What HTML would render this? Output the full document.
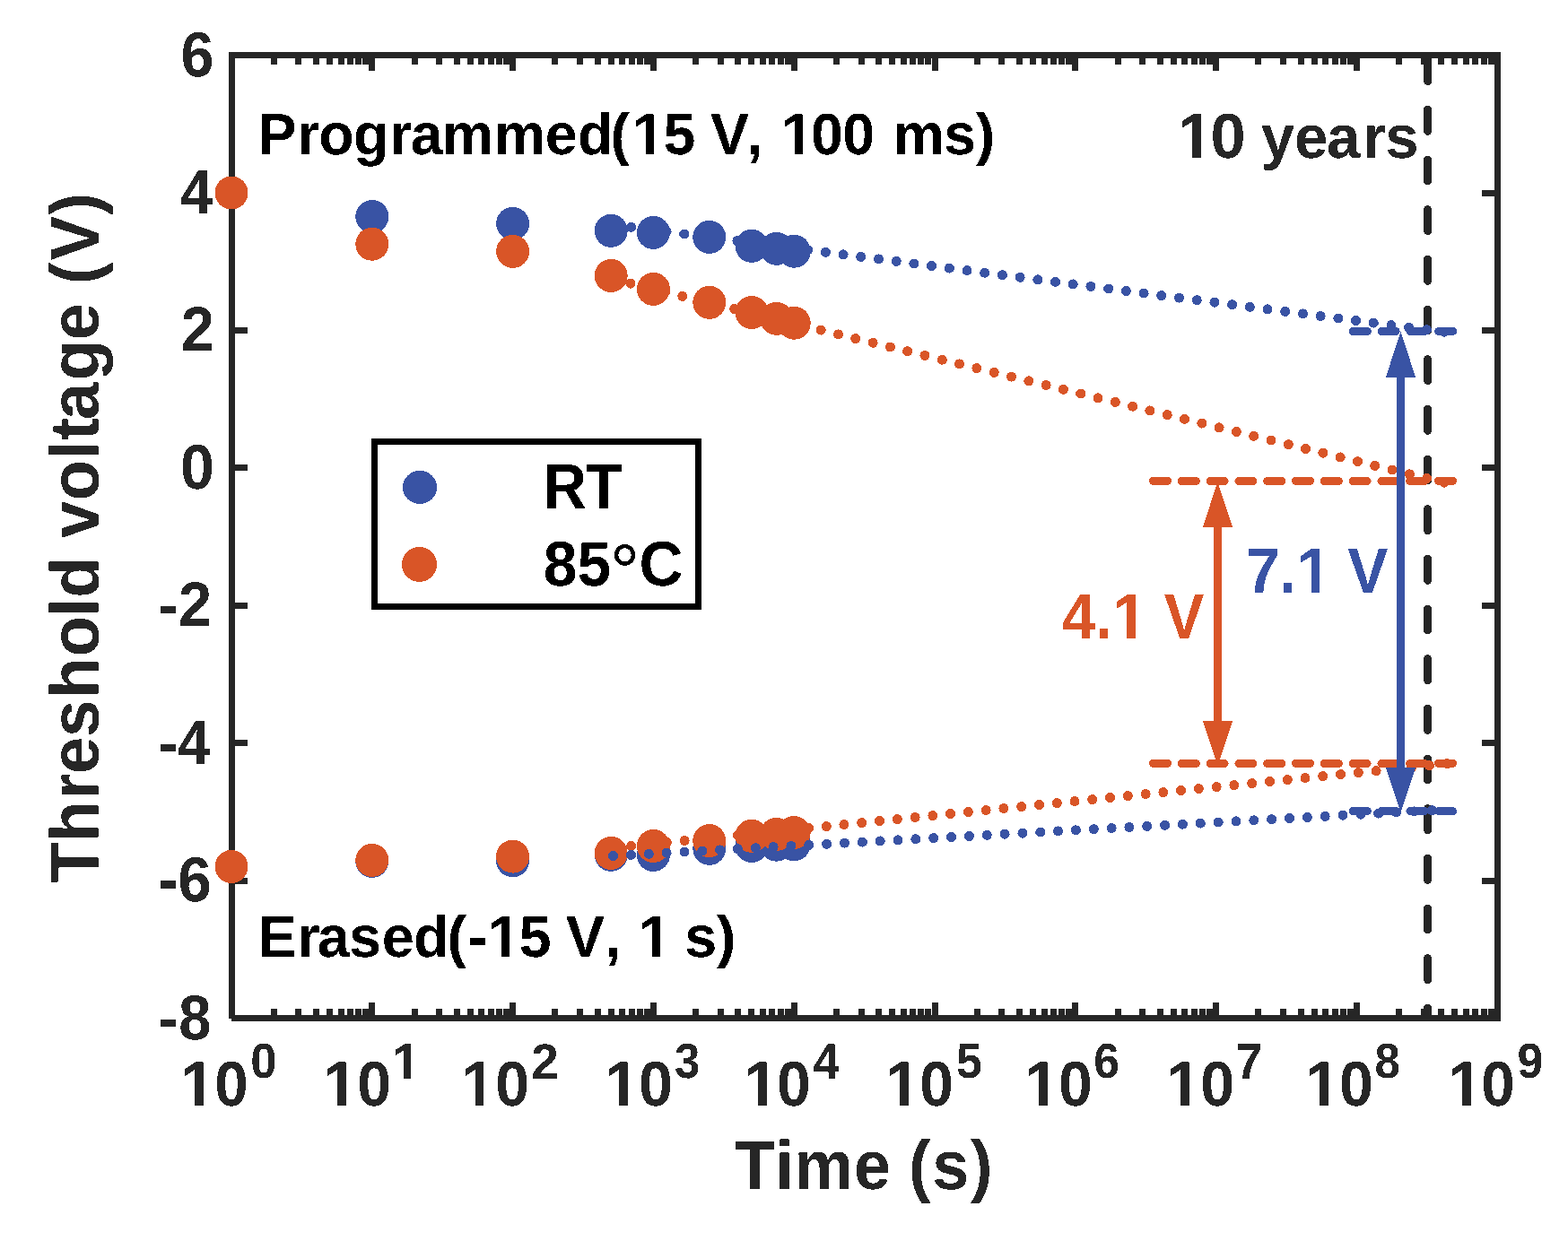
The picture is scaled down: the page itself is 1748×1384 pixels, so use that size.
<!DOCTYPE html>
<html lang="en"><head><meta charset="utf-8"><title>Retention characteristics</title>
<style>html,body{margin:0;padding:0;background:#fff}svg{display:block}text{font-family:"Liberation Sans",Arial,Helvetica,sans-serif;font-weight:bold;font-kerning:none;font-variant-ligatures:none;white-space:pre;text-rendering:geometricPrecision}</style></head><body>
<svg xmlns="http://www.w3.org/2000/svg" width="1748" height="1384" viewBox="0 0 1748 1384">
<defs><filter id="al" x="0" y="0" width="100%" height="100%" filterUnits="userSpaceOnUse" color-interpolation-filters="sRGB"><feComponentTransfer><feFuncA type="discrete" tableValues="0 1"/></feComponentTransfer></filter><clipPath id="c1"><path clip-rule="evenodd" d="M-100.0 -150.0H355.8V70.0H-100.0ZM4.88 -11.47H22.683V6.00H4.88ZM37.522 -11.47H54.20V6.00H37.522Z"/></clipPath><clipPath id="c2"><path clip-rule="evenodd" d="M-100.0 -150.0H355.5V70.0H-100.0ZM116.351 -51.847H131.534V-38.530H116.351ZM143.292 -51.847H158.317V-38.530H143.292ZM4.88 -11.47H22.779V6.00H4.88ZM37.475 -11.47H54.20V6.00H37.475Z"/></clipPath><clipPath id="c3"><path clip-rule="evenodd" d="M-100.0 -150.0H355.7V70.0H-100.0ZM4.88 -11.47H23.118V6.00H4.88ZM36.357 -11.47H54.20V6.00H36.357Z"/></clipPath><clipPath id="c4"><path clip-rule="evenodd" d="M-100.0 -150.0H355.1V70.0H-100.0ZM4.88 -11.47H22.775V6.00H4.88ZM37.399 -11.47H54.20V6.00H37.399Z"/></clipPath><clipPath id="c5"><path clip-rule="evenodd" d="M-100.0 -150.0H353.8V70.0H-100.0ZM4.88 -11.47H22.925V6.00H4.88ZM37.617 -11.47H54.20V6.00H37.617Z"/></clipPath><clipPath id="c6"><path clip-rule="evenodd" d="M-100.0 -150.0H355.7V70.0H-100.0ZM4.88 -11.47H22.724V6.00H4.88ZM37.493 -11.47H54.20V6.00H37.493Z"/></clipPath><clipPath id="c7"><path clip-rule="evenodd" d="M-100.0 -150.0H355.2V70.0H-100.0ZM4.88 -11.47H22.867V6.00H4.88ZM37.559 -11.47H54.20V6.00H37.559Z"/></clipPath><clipPath id="c8"><path clip-rule="evenodd" d="M-100.0 -150.0H355.4V70.0H-100.0ZM4.88 -11.47H22.778V6.00H4.88ZM37.456 -11.47H54.20V6.00H37.456Z"/></clipPath><clipPath id="c9"><path clip-rule="evenodd" d="M-100.0 -150.0H355.4V70.0H-100.0ZM4.88 -11.47H22.924V6.00H4.88ZM37.603 -11.47H54.20V6.00H37.603Z"/></clipPath><clipPath id="c10"><path clip-rule="evenodd" d="M-100.0 -150.0H354.3V70.0H-100.0ZM4.88 -11.47H22.609V6.00H4.88ZM37.447 -11.47H54.20V6.00H37.447Z"/></clipPath><clipPath id="c11"><path clip-rule="evenodd" d="M-100.0 -150.0H1540.1V70.0H-100.0ZM651.45 -11.47H670.225V6.00H651.45ZM684.173 -11.47H700.77V6.00H684.173ZM908.64 -11.47H927.488V6.00H908.64ZM941.436 -11.47H957.96V6.00H941.436Z"/></clipPath><clipPath id="c12"><path clip-rule="evenodd" d="M-100.0 -150.0H1087.3V70.0H-100.0ZM399.54 -11.47H418.177V6.00H399.54ZM432.040 -11.47H448.86V6.00H432.040ZM658.40 -11.47H676.945V6.00H658.40ZM690.808 -11.47H707.72V6.00H690.808Z"/></clipPath><clipPath id="c13"><path clip-rule="evenodd" d="M-100.0 -150.0H644.2V70.0H-100.0ZM5.12 -12.02H23.784V6.29H5.12ZM38.661 -12.02H56.79V6.29H38.661Z"/></clipPath><clipPath id="c14"><path clip-rule="evenodd" d="M-100.0 -150.0H467.4V70.0H-100.0ZM88.72 -11.47H107.891V6.00H88.72ZM121.180 -11.47H138.04V6.00H121.180Z"/></clipPath><clipPath id="c15"><path clip-rule="evenodd" d="M-100.0 -150.0H470.2V70.0H-100.0ZM90.12 -11.47H107.824V6.00H90.12ZM122.751 -11.47H139.44V6.00H122.751Z"/></clipPath></defs>
<rect x="0" y="0" width="1748" height="1384" fill="#ffffff"/>
<g shape-rendering="crispEdges">
<path d="M302 58h7v14h-7zM302 1125h7v14h-7zM329 58h7v14h-7zM329 1125h7v14h-7zM349 58h7v14h-7zM349 1125h7v14h-7zM364 58h7v14h-7zM364 1125h7v14h-7zM377 58h7v14h-7zM377 1125h7v14h-7zM387 58h7v14h-7zM387 1125h7v14h-7zM396 58h7v14h-7zM396 1125h7v14h-7zM404 58h7v14h-7zM404 1125h7v14h-7zM411 58h7v21h-7zM411 1118h7v21h-7zM459 58h7v14h-7zM459 1125h7v14h-7zM486 58h7v14h-7zM486 1125h7v14h-7zM506 58h7v14h-7zM506 1125h7v14h-7zM521 58h7v14h-7zM521 1125h7v14h-7zM533 58h7v14h-7zM533 1125h7v14h-7zM544 58h7v14h-7zM544 1125h7v14h-7zM553 58h7v14h-7zM553 1125h7v14h-7zM561 58h7v14h-7zM561 1125h7v14h-7zM568 58h7v21h-7zM568 1118h7v21h-7zM615 58h7v14h-7zM615 1125h7v14h-7zM643 58h7v14h-7zM643 1125h7v14h-7zM663 58h7v14h-7zM663 1125h7v14h-7zM678 58h7v14h-7zM678 1125h7v14h-7zM690 58h7v14h-7zM690 1125h7v14h-7zM701 58h7v14h-7zM701 1125h7v14h-7zM710 58h7v14h-7zM710 1125h7v14h-7zM718 58h7v14h-7zM718 1125h7v14h-7zM725 58h7v21h-7zM725 1118h7v21h-7zM772 58h7v14h-7zM772 1125h7v14h-7zM800 58h7v14h-7zM800 1125h7v14h-7zM819 58h7v14h-7zM819 1125h7v14h-7zM834 58h7v14h-7zM834 1125h7v14h-7zM847 58h7v14h-7zM847 1125h7v14h-7zM857 58h7v14h-7zM857 1125h7v14h-7zM867 58h7v14h-7zM867 1125h7v14h-7zM875 58h7v14h-7zM875 1125h7v14h-7zM882 58h7v21h-7zM882 1118h7v21h-7zM929 58h7v14h-7zM929 1125h7v14h-7zM957 58h7v14h-7zM957 1125h7v14h-7zM976 58h7v14h-7zM976 1125h7v14h-7zM991 58h7v14h-7zM991 1125h7v14h-7zM1004 58h7v14h-7zM1004 1125h7v14h-7zM1014 58h7v14h-7zM1014 1125h7v14h-7zM1023 58h7v14h-7zM1023 1125h7v14h-7zM1031 58h7v14h-7zM1031 1125h7v14h-7zM1039 58h7v21h-7zM1039 1118h7v21h-7zM1086 58h7v14h-7zM1086 1125h7v14h-7zM1113 58h7v14h-7zM1113 1125h7v14h-7zM1133 58h7v14h-7zM1133 1125h7v14h-7zM1148 58h7v14h-7zM1148 1125h7v14h-7zM1161 58h7v14h-7zM1161 1125h7v14h-7zM1171 58h7v14h-7zM1171 1125h7v14h-7zM1180 58h7v14h-7zM1180 1125h7v14h-7zM1188 58h7v14h-7zM1188 1125h7v14h-7zM1195 58h7v21h-7zM1195 1118h7v21h-7zM1243 58h7v14h-7zM1243 1125h7v14h-7zM1270 58h7v14h-7zM1270 1125h7v14h-7zM1290 58h7v14h-7zM1290 1125h7v14h-7zM1305 58h7v14h-7zM1305 1125h7v14h-7zM1317 58h7v14h-7zM1317 1125h7v14h-7zM1328 58h7v14h-7zM1328 1125h7v14h-7zM1337 58h7v14h-7zM1337 1125h7v14h-7zM1345 58h7v14h-7zM1345 1125h7v14h-7zM1352 58h7v21h-7zM1352 1118h7v21h-7zM1399 58h7v14h-7zM1399 1125h7v14h-7zM1427 58h7v14h-7zM1427 1125h7v14h-7zM1447 58h7v14h-7zM1447 1125h7v14h-7zM1462 58h7v14h-7zM1462 1125h7v14h-7zM1474 58h7v14h-7zM1474 1125h7v14h-7zM1485 58h7v14h-7zM1485 1125h7v14h-7zM1494 58h7v14h-7zM1494 1125h7v14h-7zM1502 58h7v14h-7zM1502 1125h7v14h-7zM1509 58h7v21h-7zM1509 1118h7v21h-7zM1556 58h7v14h-7zM1556 1125h7v14h-7zM1584 58h7v14h-7zM1584 1125h7v14h-7zM1603 58h7v14h-7zM1603 1125h7v14h-7zM1618 58h7v14h-7zM1618 1125h7v14h-7zM1631 58h7v14h-7zM1631 1125h7v14h-7zM1641 58h7v14h-7zM1641 1125h7v14h-7zM1651 58h7v14h-7zM1651 1125h7v14h-7zM1659 58h7v14h-7zM1659 1125h7v14h-7zM255 979h21v7h-21zM1652 979h21v7h-21zM255 825h21v7h-21zM1652 825h21v7h-21zM255 672h21v7h-21zM1652 672h21v7h-21zM255 518h21v7h-21zM1652 518h21v7h-21zM255 365h21v7h-21zM1652 365h21v7h-21zM255 212h21v7h-21zM1652 212h21v7h-21zM255 58h1418v7h-1418zM258 1132h1415v7h-1415zM255 58h7v1078h-7zM1666 58h7v1081h-7z" fill="#262626"/>
<path d="M1591.6 66.7V1134" stroke="#262626" stroke-width="9.1" stroke-linecap="round" stroke-dasharray="23.8 31.87" fill="none"/>
<g fill="#3953A4"><circle cx="258.00" cy="215.00" r="18.5"/><circle cx="414.80" cy="241.50" r="18.5"/><circle cx="571.60" cy="249.40" r="18.5"/><circle cx="681.20" cy="257.30" r="18.5"/><circle cx="728.40" cy="259.40" r="18.5"/><circle cx="790.80" cy="264.40" r="18.5"/><circle cx="838.00" cy="274.30" r="18.5"/><circle cx="865.61" cy="277.30" r="18.5"/><circle cx="885.20" cy="280.20" r="18.5"/></g>
<g fill="#D95527"><circle cx="258.00" cy="215.00" r="18.5"/><circle cx="414.80" cy="272.20" r="18.5"/><circle cx="571.60" cy="280.40" r="18.5"/><circle cx="681.20" cy="307.40" r="18.5"/><circle cx="728.40" cy="322.40" r="18.5"/><circle cx="790.80" cy="337.30" r="18.5"/><circle cx="838.00" cy="348.40" r="18.5"/><circle cx="865.61" cy="355.30" r="18.5"/><circle cx="885.20" cy="360.20" r="18.5"/></g>
<g fill="#3953A4"><circle cx="258.00" cy="966.40" r="18.5"/><circle cx="414.80" cy="960.40" r="18.5"/><circle cx="571.60" cy="959.80" r="18.5"/><circle cx="681.20" cy="953.30" r="18.5"/><circle cx="728.40" cy="953.50" r="18.5"/><circle cx="790.80" cy="946.30" r="18.5"/><circle cx="838.00" cy="943.50" r="18.5"/><circle cx="865.61" cy="942.20" r="18.5"/><circle cx="885.20" cy="941.80" r="18.5"/></g>
<g fill="#D95527"><circle cx="258.00" cy="966.40" r="18.5"/><circle cx="414.80" cy="959.40" r="18.5"/><circle cx="571.60" cy="955.10" r="18.5"/><circle cx="681.20" cy="951.40" r="18.5"/><circle cx="728.40" cy="943.50" r="18.5"/><circle cx="790.80" cy="937.60" r="18.5"/><circle cx="838.00" cy="932.30" r="18.5"/><circle cx="865.61" cy="930.40" r="18.5"/><circle cx="885.20" cy="928.50" r="18.5"/></g>
<g fill="#3953A4"><circle cx="683.90" cy="250.80" r="5.5"/><circle cx="703.61" cy="253.34" r="5.5"/><circle cx="723.31" cy="255.88" r="5.5"/><circle cx="743.02" cy="258.43" r="5.5"/><circle cx="762.73" cy="260.97" r="5.5"/><circle cx="782.43" cy="263.51" r="5.5"/><circle cx="802.14" cy="266.05" r="5.5"/><circle cx="821.85" cy="268.60" r="5.5"/><circle cx="841.55" cy="271.14" r="5.5"/><circle cx="861.26" cy="273.68" r="5.5"/><circle cx="880.97" cy="276.22" r="5.5"/><circle cx="900.67" cy="278.76" r="5.5"/><circle cx="920.38" cy="281.31" r="5.5"/><circle cx="940.09" cy="283.85" r="5.5"/><circle cx="959.79" cy="286.39" r="5.5"/><circle cx="979.50" cy="288.93" r="5.5"/><circle cx="999.21" cy="291.47" r="5.5"/><circle cx="1018.91" cy="294.02" r="5.5"/><circle cx="1038.62" cy="296.56" r="5.5"/><circle cx="1058.33" cy="299.10" r="5.5"/><circle cx="1078.03" cy="301.64" r="5.5"/><circle cx="1097.74" cy="304.19" r="5.5"/><circle cx="1117.45" cy="306.73" r="5.5"/><circle cx="1137.15" cy="309.27" r="5.5"/><circle cx="1156.86" cy="311.81" r="5.5"/><circle cx="1176.57" cy="314.35" r="5.5"/><circle cx="1196.27" cy="316.90" r="5.5"/><circle cx="1215.98" cy="319.44" r="5.5"/><circle cx="1235.69" cy="321.98" r="5.5"/><circle cx="1255.39" cy="324.52" r="5.5"/><circle cx="1275.10" cy="327.06" r="5.5"/><circle cx="1294.81" cy="329.61" r="5.5"/><circle cx="1314.51" cy="332.15" r="5.5"/><circle cx="1334.22" cy="334.69" r="5.5"/><circle cx="1353.93" cy="337.23" r="5.5"/><circle cx="1373.63" cy="339.78" r="5.5"/><circle cx="1393.34" cy="342.32" r="5.5"/><circle cx="1413.05" cy="344.86" r="5.5"/><circle cx="1432.75" cy="347.40" r="5.5"/><circle cx="1452.46" cy="349.94" r="5.5"/><circle cx="1472.17" cy="352.49" r="5.5"/><circle cx="1491.87" cy="355.03" r="5.5"/><circle cx="1511.58" cy="357.57" r="5.5"/><circle cx="1531.29" cy="360.11" r="5.5"/><circle cx="1551.00" cy="362.66" r="5.5"/><circle cx="1570.70" cy="365.20" r="5.5"/><circle cx="1590.41" cy="367.74" r="5.5"/><circle cx="1610.12" cy="370.28" r="5.5"/></g>
<g fill="#D95527"><circle cx="683.60" cy="311.40" r="5.5"/><circle cx="702.90" cy="316.13" r="5.5"/><circle cx="722.20" cy="320.85" r="5.5"/><circle cx="741.50" cy="325.58" r="5.5"/><circle cx="760.80" cy="330.31" r="5.5"/><circle cx="780.10" cy="335.03" r="5.5"/><circle cx="799.40" cy="339.76" r="5.5"/><circle cx="818.70" cy="344.49" r="5.5"/><circle cx="838.00" cy="349.21" r="5.5"/><circle cx="857.30" cy="353.94" r="5.5"/><circle cx="876.60" cy="358.66" r="5.5"/><circle cx="895.90" cy="363.39" r="5.5"/><circle cx="915.20" cy="368.12" r="5.5"/><circle cx="934.50" cy="372.84" r="5.5"/><circle cx="953.80" cy="377.57" r="5.5"/><circle cx="973.10" cy="382.30" r="5.5"/><circle cx="992.39" cy="387.02" r="5.5"/><circle cx="1011.69" cy="391.75" r="5.5"/><circle cx="1030.99" cy="396.48" r="5.5"/><circle cx="1050.29" cy="401.20" r="5.5"/><circle cx="1069.59" cy="405.93" r="5.5"/><circle cx="1088.89" cy="410.66" r="5.5"/><circle cx="1108.19" cy="415.38" r="5.5"/><circle cx="1127.49" cy="420.11" r="5.5"/><circle cx="1146.79" cy="424.84" r="5.5"/><circle cx="1166.09" cy="429.56" r="5.5"/><circle cx="1185.39" cy="434.29" r="5.5"/><circle cx="1204.69" cy="439.02" r="5.5"/><circle cx="1223.99" cy="443.74" r="5.5"/><circle cx="1243.29" cy="448.47" r="5.5"/><circle cx="1262.59" cy="453.19" r="5.5"/><circle cx="1281.89" cy="457.92" r="5.5"/><circle cx="1301.19" cy="462.65" r="5.5"/><circle cx="1320.49" cy="467.37" r="5.5"/><circle cx="1339.79" cy="472.10" r="5.5"/><circle cx="1359.09" cy="476.83" r="5.5"/><circle cx="1378.39" cy="481.55" r="5.5"/><circle cx="1397.69" cy="486.28" r="5.5"/><circle cx="1416.99" cy="491.01" r="5.5"/><circle cx="1436.29" cy="495.73" r="5.5"/><circle cx="1455.59" cy="500.46" r="5.5"/><circle cx="1474.89" cy="505.19" r="5.5"/><circle cx="1494.19" cy="509.91" r="5.5"/><circle cx="1513.49" cy="514.64" r="5.5"/><circle cx="1532.79" cy="519.37" r="5.5"/><circle cx="1552.09" cy="524.09" r="5.5"/><circle cx="1571.38" cy="528.82" r="5.5"/><circle cx="1590.68" cy="533.54" r="5.5"/><circle cx="1609.98" cy="538.27" r="5.5"/></g>
<g fill="#D95527"><circle cx="684.00" cy="945.50" r="5.5"/><circle cx="703.77" cy="943.50" r="5.5"/><circle cx="723.54" cy="941.51" r="5.5"/><circle cx="743.31" cy="939.51" r="5.5"/><circle cx="763.08" cy="937.51" r="5.5"/><circle cx="782.85" cy="935.52" r="5.5"/><circle cx="802.62" cy="933.52" r="5.5"/><circle cx="822.39" cy="931.52" r="5.5"/><circle cx="842.16" cy="929.53" r="5.5"/><circle cx="861.92" cy="927.53" r="5.5"/><circle cx="881.69" cy="925.53" r="5.5"/><circle cx="901.46" cy="923.54" r="5.5"/><circle cx="921.23" cy="921.54" r="5.5"/><circle cx="941.00" cy="919.54" r="5.5"/><circle cx="960.77" cy="917.55" r="5.5"/><circle cx="980.54" cy="915.55" r="5.5"/><circle cx="1000.31" cy="913.55" r="5.5"/><circle cx="1020.08" cy="911.56" r="5.5"/><circle cx="1039.85" cy="909.56" r="5.5"/><circle cx="1059.62" cy="907.56" r="5.5"/><circle cx="1079.39" cy="905.57" r="5.5"/><circle cx="1099.16" cy="903.57" r="5.5"/><circle cx="1118.93" cy="901.57" r="5.5"/><circle cx="1138.70" cy="899.58" r="5.5"/><circle cx="1158.47" cy="897.58" r="5.5"/><circle cx="1178.24" cy="895.58" r="5.5"/><circle cx="1198.00" cy="893.59" r="5.5"/><circle cx="1217.77" cy="891.59" r="5.5"/><circle cx="1237.54" cy="889.59" r="5.5"/><circle cx="1257.31" cy="887.60" r="5.5"/><circle cx="1277.08" cy="885.60" r="5.5"/><circle cx="1296.85" cy="883.60" r="5.5"/><circle cx="1316.62" cy="881.61" r="5.5"/><circle cx="1336.39" cy="879.61" r="5.5"/><circle cx="1356.16" cy="877.61" r="5.5"/><circle cx="1375.93" cy="875.62" r="5.5"/><circle cx="1395.70" cy="873.62" r="5.5"/><circle cx="1415.47" cy="871.62" r="5.5"/><circle cx="1435.24" cy="869.62" r="5.5"/><circle cx="1455.01" cy="867.63" r="5.5"/><circle cx="1474.78" cy="865.63" r="5.5"/><circle cx="1494.55" cy="863.63" r="5.5"/><circle cx="1514.32" cy="861.64" r="5.5"/><circle cx="1534.09" cy="859.64" r="5.5"/><circle cx="1553.85" cy="857.64" r="5.5"/><circle cx="1573.62" cy="855.65" r="5.5"/><circle cx="1593.39" cy="853.65" r="5.5"/><circle cx="1613.16" cy="851.65" r="5.5"/></g>
<g fill="#3953A4"><circle cx="683.60" cy="954.50" r="5.5"/><circle cx="703.44" cy="953.40" r="5.5"/><circle cx="723.28" cy="952.29" r="5.5"/><circle cx="743.12" cy="951.19" r="5.5"/><circle cx="762.96" cy="950.09" r="5.5"/><circle cx="782.80" cy="948.98" r="5.5"/><circle cx="802.64" cy="947.88" r="5.5"/><circle cx="822.48" cy="946.78" r="5.5"/><circle cx="842.31" cy="945.68" r="5.5"/><circle cx="862.15" cy="944.57" r="5.5"/><circle cx="881.99" cy="943.47" r="5.5"/><circle cx="901.83" cy="942.37" r="5.5"/><circle cx="921.67" cy="941.26" r="5.5"/><circle cx="941.51" cy="940.16" r="5.5"/><circle cx="961.35" cy="939.06" r="5.5"/><circle cx="981.19" cy="937.95" r="5.5"/><circle cx="1001.03" cy="936.85" r="5.5"/><circle cx="1020.87" cy="935.75" r="5.5"/><circle cx="1040.71" cy="934.64" r="5.5"/><circle cx="1060.55" cy="933.54" r="5.5"/><circle cx="1080.39" cy="932.44" r="5.5"/><circle cx="1100.23" cy="931.34" r="5.5"/><circle cx="1120.07" cy="930.23" r="5.5"/><circle cx="1139.91" cy="929.13" r="5.5"/><circle cx="1159.74" cy="928.03" r="5.5"/><circle cx="1179.58" cy="926.92" r="5.5"/><circle cx="1199.42" cy="925.82" r="5.5"/><circle cx="1219.26" cy="924.72" r="5.5"/><circle cx="1239.10" cy="923.61" r="5.5"/><circle cx="1258.94" cy="922.51" r="5.5"/><circle cx="1278.78" cy="921.41" r="5.5"/><circle cx="1298.62" cy="920.30" r="5.5"/><circle cx="1318.46" cy="919.20" r="5.5"/><circle cx="1338.30" cy="918.10" r="5.5"/><circle cx="1358.14" cy="917.00" r="5.5"/><circle cx="1377.98" cy="915.89" r="5.5"/><circle cx="1397.82" cy="914.79" r="5.5"/><circle cx="1417.66" cy="913.69" r="5.5"/><circle cx="1437.50" cy="912.58" r="5.5"/><circle cx="1457.33" cy="911.48" r="5.5"/><circle cx="1477.17" cy="910.38" r="5.5"/><circle cx="1497.01" cy="909.27" r="5.5"/><circle cx="1516.85" cy="908.17" r="5.5"/><circle cx="1536.69" cy="907.07" r="5.5"/><circle cx="1556.53" cy="905.96" r="5.5"/><circle cx="1576.37" cy="904.86" r="5.5"/><circle cx="1596.21" cy="903.76" r="5.5"/></g>
<path d="M1285.5 536.45H1619.55" stroke="#D95527" stroke-width="9" stroke-linecap="round" stroke-dasharray="16 15.8" fill="none"/>
<path d="M1285.5 851.4H1619.55" stroke="#D95527" stroke-width="9" stroke-linecap="round" stroke-dasharray="16 15.8" fill="none"/>
<path d="M1508.4 369.5H1619.55" stroke="#3953A4" stroke-width="9" stroke-linecap="round" stroke-dasharray="16 15.8" fill="none"/>
<path d="M1508.4 904.55H1619.55" stroke="#3953A4" stroke-width="9" stroke-linecap="round" stroke-dasharray="16 15.8" fill="none"/>
<path d="M1357.45 586.9V805.05" stroke="#D95527" stroke-width="8.8" fill="none"/><path d="M1357.45 537.2L1374.0 587.9H1340.9ZM1357.45 854.4L1374.0 804.05H1340.9Z" fill="#D95527"/>
<path d="M1561.5 419.64V857.2" stroke="#3953A4" stroke-width="8.8" fill="none"/><path d="M1561.5 369.6L1578.05 420.64H1544.95ZM1561.5 905.75L1578.05 856.2H1544.95Z" fill="#3953A4"/>
</g>
<g filter="url(#al)">
<text transform="matrix(0.66612 0 0 0.70621 201.46 85.21)" font-size="100" fill="#262626">6</text>
<text transform="matrix(0.64968 0 0 0.69333 201.12 237.80)" font-size="100" fill="#262626">4</text>
<text transform="matrix(0.66674 0 0 0.70319 201.79 391.10)" font-size="100" fill="#262626">2</text>
<text transform="matrix(0.68126 0 0 0.70550 201.11 545.36)" font-size="100" fill="#262626">0</text>
<text transform="matrix(0.66674 0 0 0.70319 176.37 698.00)" x="0.00 33.78" y="0" font-size="100" fill="#262626">-2</text>
<text transform="matrix(0.65342 0 0 0.69914 176.42 852.10)" x="0.00 33.20" y="0" font-size="100" fill="#262626">-4</text>
<text transform="matrix(0.67522 0 0 0.70621 176.33 1005.31)" x="0.00 32.37" y="0" font-size="100" fill="#262626">-6</text>
<text transform="matrix(0.65026 0 0 0.70338 176.43 1159.31)" x="0.00 34.92" y="0" font-size="100" fill="#262626">-8</text>
<text transform="matrix(0.67391 0 0 0.70621 201.71 1233.21)" x="0.00 55.82" y="0" font-size="100" fill="#262626" clip-path="url(#c1)">10<tspan x="114.91" y="-44.19" font-size="78.00" textLength="43.73" lengthAdjust="spacingAndGlyphs">0</tspan></text>
<text transform="matrix(0.68042 0 0 0.70621 360.50 1233.21)" x="0.00 55.48" y="0" font-size="100" fill="#262626" clip-path="url(#c2)">10<tspan x="112.57" y="-42.78" font-size="79.03" textLength="47.33" lengthAdjust="spacingAndGlyphs">1</tspan></text>
<text transform="matrix(0.67979 0 0 0.70621 514.28 1233.21)" x="0.00 55.75" y="0" font-size="100" fill="#262626" clip-path="url(#c3)">10<tspan x="114.77" y="-42.78" font-size="78.69" textLength="44.95" lengthAdjust="spacingAndGlyphs">2</tspan></text>
<text transform="matrix(0.68379 0 0 0.70621 674.43 1233.21)" x="0.00 55.06" y="0" font-size="100" fill="#262626" clip-path="url(#c4)">10<tspan x="113.35" y="-44.19" font-size="77.84" textLength="41.40" lengthAdjust="spacingAndGlyphs">3</tspan></text>
<text transform="matrix(0.68063 0 0 0.70621 829.40 1233.21)" x="0.00 53.79" y="0" font-size="100" fill="#262626" clip-path="url(#c5)">10<tspan x="113.45" y="-42.78" font-size="79.03" textLength="42.77" lengthAdjust="spacingAndGlyphs">4</tspan></text>
<text transform="matrix(0.67706 0 0 0.70621 987.61 1233.21)" x="0.00 55.66" y="0" font-size="100" fill="#262626" clip-path="url(#c6)">10<tspan x="115.64" y="-44.19" font-size="78.33" textLength="42.59" lengthAdjust="spacingAndGlyphs">5</tspan></text>
<text transform="matrix(0.68063 0 0 0.70621 1142.44 1233.21)" x="0.00 55.20" y="0" font-size="100" fill="#262626" clip-path="url(#c7)">10<tspan x="113.01" y="-44.19" font-size="78.00" textLength="42.26" lengthAdjust="spacingAndGlyphs">6</tspan></text>
<text transform="matrix(0.68126 0 0 0.70621 1300.48 1233.21)" x="0.00 55.37" y="0" font-size="100" fill="#262626" clip-path="url(#c8)">10<tspan x="113.23" y="-42.78" font-size="79.86" textLength="44.02" lengthAdjust="spacingAndGlyphs">7</tspan></text>
<text transform="matrix(0.68126 0 0 0.70621 1455.38 1233.21)" x="0.00 55.37" y="0" font-size="100" fill="#262626" clip-path="url(#c9)">10<tspan x="113.30" y="-44.19" font-size="78.00" textLength="41.59" lengthAdjust="spacingAndGlyphs">8</tspan></text>
<text transform="matrix(0.67391 0 0 0.70621 1614.76 1233.21)" x="0.00 54.27" y="0" font-size="100" fill="#262626" clip-path="url(#c10)">10<tspan x="113.85" y="-44.19" font-size="78.00" textLength="42.87" lengthAdjust="spacingAndGlyphs">9</tspan></text>
<text transform="matrix(0.73701 0 0 0.77000 819.21 1325.90)" x="0.00 61.27 90.03 180.11 235.73 262.98 298.62 356.60" y="0" font-size="100" fill="#262626">Time (s)</text>
<text transform="matrix(0 -0.74378 0.77000 0 109.95 984.44)" x="0.00 61.14 125.10 162.94 218.64 276.30 338.77 398.79 427.34 488.42 516.58 572.64 634.20 663.57 694.13 752.75 813.53 869.15 897.09 933.04 1000.85" y="0" font-size="100" fill="#262626">Threshold voltage (V)</text>
<text transform="matrix(0.64526 0 0 0.65000 287.53 171.79)" x="0.00 67.81 105.09 165.12 227.46 263.89 317.90 407.83 496.42 552.44 609.13 646.57 700.39 756.00 781.86 844.08 871.86 903.76 955.35 1009.90 1065.52 1097.25 1185.13 1240.12" y="0" font-size="100" fill="#000" clip-path="url(#c11)">Programmed(15 V, 100 ms)</text>
<text transform="matrix(0.64923 0 0 0.65000 287.51 1066.79)" x="0.00 67.30 101.89 156.42 212.99 267.18 325.03 360.85 394.66 448.02 503.64 528.84 595.54 623.32 653.52 709.13 732.68 787.33" y="0" font-size="100" fill="#000" clip-path="url(#c12)">Erased(-15 V, 1 s)</text>
<text transform="matrix(0.67216 0 0 0.67700 1313.01 175.95)" y="0" font-size="100" fill="#262626" clip-path="url(#c13)" xml:space="preserve"><tspan x="0.00 54.21 112.48" font-size="104.77">10 </tspan><tspan x="137.93 193.49 246.96 306.70 344.18" font-size="100.00">years</tspan></text>
<text transform="matrix(0.67726 0 0 0.71366 1388.93 661.05)" x="0.00 54.85 83.84 139.45 167.43" y="0" font-size="100" fill="#3953A4" clip-path="url(#c14)">7.1 V</text>
<text transform="matrix(0.66993 0 0 0.71221 1183.77 711.88)" x="0.00 55.84 85.24 140.86 170.23" y="0" font-size="100" fill="#D95527" clip-path="url(#c15)">4.1 V</text>
</g>
<g shape-rendering="crispEdges">
<path d="M414 489h368v191h-368zM421 496v177h354v-177z" fill="#000" fill-rule="evenodd"/>
<ellipse cx="468.03" cy="543.45" rx="19.05" ry="18.55" fill="#3953A4"/>
<circle cx="467.5" cy="629.4" r="19.5" fill="#D95527"/>
</g>
<g filter="url(#al)">
<text transform="matrix(0.67001 0 0 0.71090 605.45 566.93)" x="0.00 70.71" y="0" font-size="100" fill="#000">RT</text>
<text transform="matrix(0.67491 0 0 0.70253 605.73 653.10)" x="0 56.08 110.01 158.34" y="0 0 19.72 -0.5" font-size="100.6" fill="#000">85<tspan font-size="122.49" font-weight="normal">°</tspan>C</text>
</g>
</svg></body></html>
